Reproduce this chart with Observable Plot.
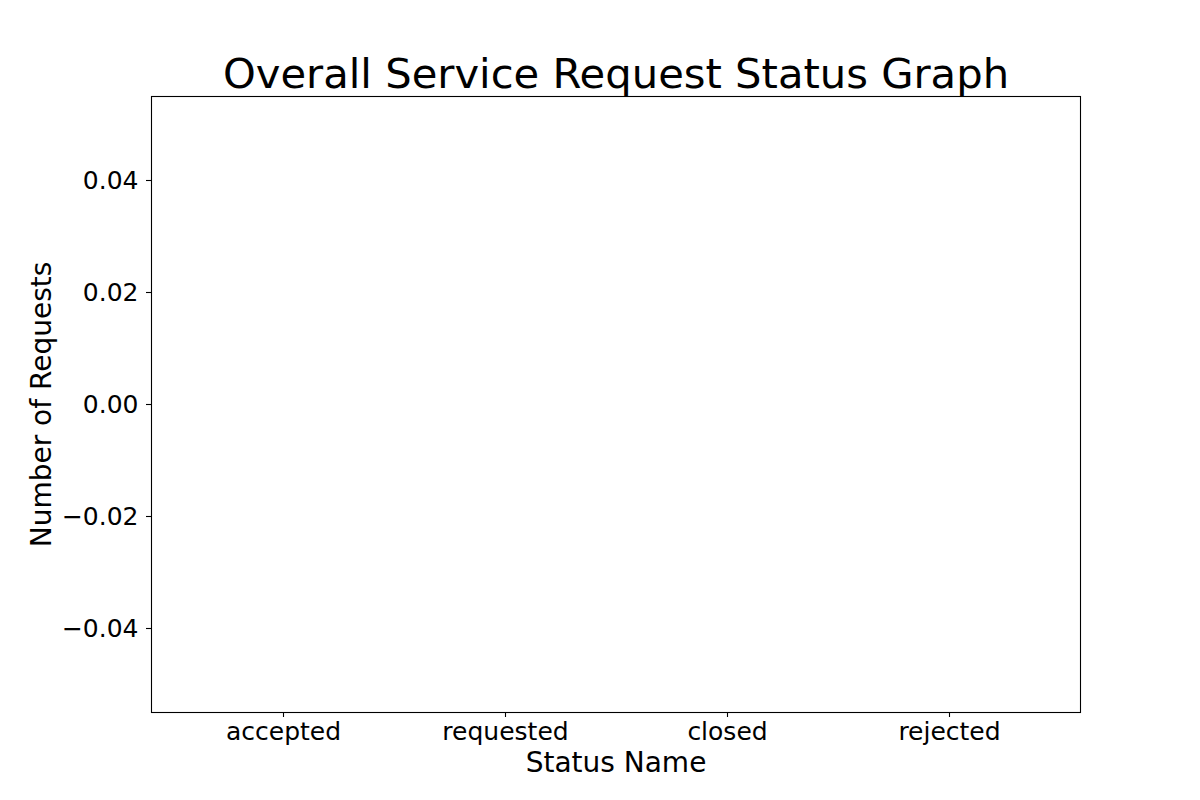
<!DOCTYPE html>
<html>
<head>
<meta charset="utf-8">
<script src="https://cdn.jsdelivr.net/npm/d3@7"></script>
<script src="https://cdn.jsdelivr.net/npm/@observablehq/plot@0.6"></script>
<style>
  html, body { margin: 0; padding: 0; background: #fff; }
  #chart svg { display: block; }
</style>
</head>
<body>
<div id="chart"></div>
<script>
const statuses = ["accepted", "requested", "closed", "rejected"];
const counts = [0, 0, 0, 0];
const yTicks = [-0.04, -0.02, 0, 0.02, 0.04];
const titleText = "Overall Service Request Status Graph";
const xLabel = "Status Name";
const yLabel = "Number of Requests";

const data = statuses.map((s, i) => ({status: s, count: counts[i]}));
const font = "DejaVu Sans, sans-serif";

const chart = Plot.plot({
  width: 1200,
  height: 800,
  marginLeft: 151,
  marginRight: 120,
  marginTop: 96,
  marginBottom: 88,
  style: {fontFamily: font, background: "#fff", color: "#000"},
  x: {type: "band", domain: statuses, paddingInner: 0.2, paddingOuter: 0.1875, axis: null},
  y: {domain: [-0.055, 0.055], axis: null},
  marks: [
    Plot.barY(data, {x: "status", y: "count", fill: "#1f77b4"}),
    Plot.axisY({ticks: yTicks, tickSize: 5, tickPadding: 8, tickFormat: d3.format(".2f"), fontSize: 25, label: null, stroke: "black", strokeWidth: 1.1}),
    Plot.axisX({tickSize: 5, tickPadding: 5, fontSize: 25, label: null, stroke: "black", strokeWidth: 1.1}),
    Plot.frame({stroke: "black", strokeWidth: 1.1}),
    Plot.text([titleText], {frameAnchor: "top", dy: -22, fontSize: 41.7, fill: "black", lineAnchor: "middle", textAnchor: "middle"}),
    Plot.text([xLabel], {frameAnchor: "bottom", dy: 51, fontSize: 28, fill: "black", lineAnchor: "middle", textAnchor: "middle"}),
    Plot.text([yLabel], {frameAnchor: "left", dx: -109, rotate: -90, fontSize: 28, fill: "black", lineAnchor: "middle", textAnchor: "middle"})
  ]
});
document.getElementById("chart").appendChild(chart);
</script>
</body>
</html>
